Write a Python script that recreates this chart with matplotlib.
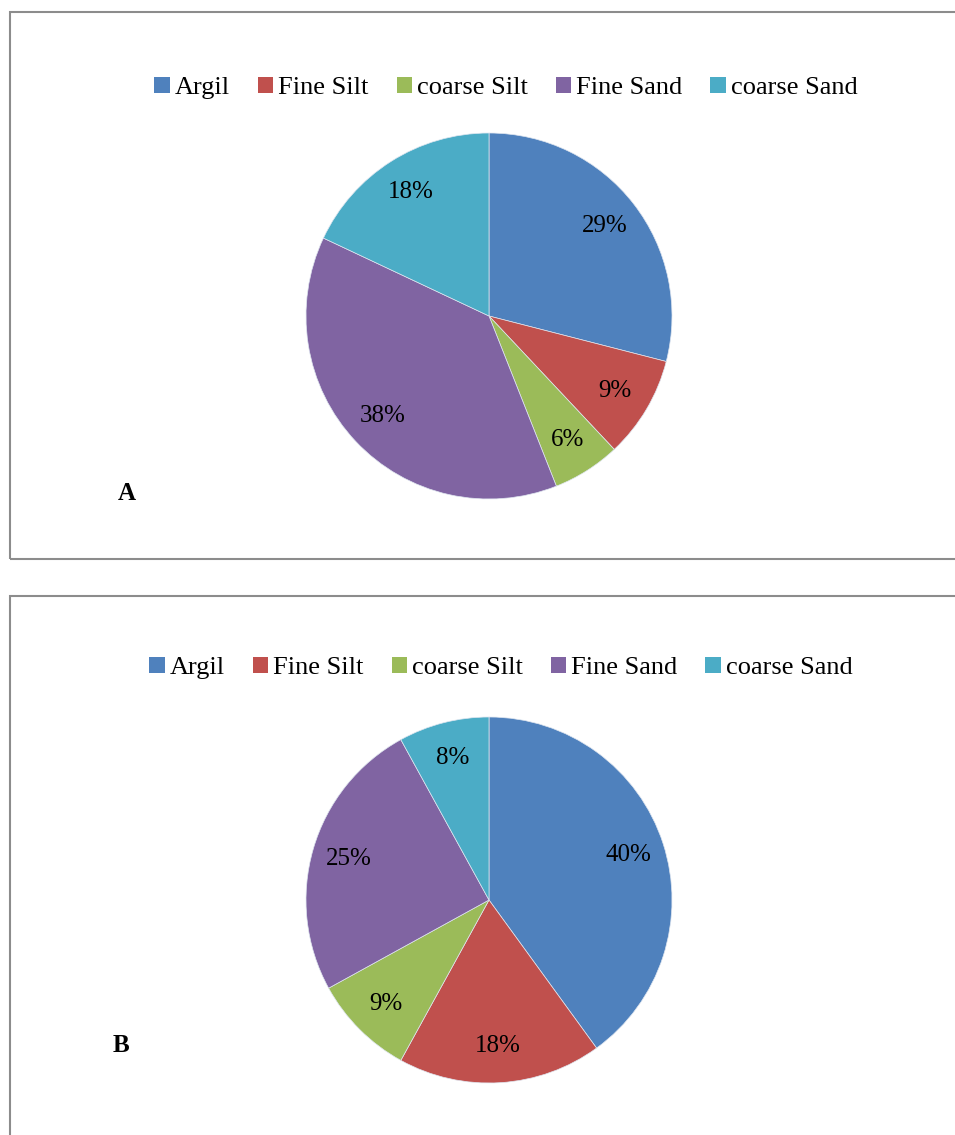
import matplotlib
matplotlib.use('Agg')
import matplotlib.pyplot as plt
from matplotlib.patches import Patch, Rectangle

plt.rcParams['font.family'] = ['Liberation Serif', 'DejaVu Serif']

categories = ['Argil', 'Fine Silt', 'coarse Silt', 'Fine Sand', 'coarse Sand']
colors = ['#4F81BD', '#C0504D', '#9BBB59', '#8064A2', '#4BACC6']
share_a = [29, 9, 6, 38, 18]
share_b = [40, 18, 9, 25, 8]

W, H = 955, 1135
fig = plt.figure(figsize=(W / 100, H / 100), dpi=100)


def px_box(x0, y0, x1, y1):
    # pixel box (top-left origin) -> figure fraction rect
    return [x0 / W, 1 - y1 / H, (x1 - x0) / W, (y1 - y0) / H]


def panel(values, frame, centre, radius, legend_xy, tag, tag_xy):
    fx0, fy0, fx1, fy1 = frame
    fig.patches.append(Rectangle((fx0 / W, 1 - fy1 / H), (fx1 - fx0) / W, (fy1 - fy0) / H,
                                 transform=fig.transFigure, fill=False,
                                 edgecolor='#8c8c8c', linewidth=1.5))
    cx, cy = centre
    ax = fig.add_axes(px_box(cx - radius, cy - radius, cx + radius, cy + radius))
    ax.pie(values, colors=colors, startangle=90, counterclock=False, radius=1,
           autopct='%1.0f%%', pctdistance=0.8,
           wedgeprops=dict(edgecolor='#dfe6f0', linewidth=0.5),
           textprops=dict(fontsize=18, color='black'))
    ax.set_xlim(-1, 1)
    ax.set_ylim(-1, 1)
    ax.set_aspect('equal')
    ax.axis('off')

    handles = [Patch(facecolor=c, edgecolor='none') for c in colors]
    fig.legend(handles, categories, loc='center',
               bbox_to_anchor=(legend_xy[0] / W, 1 - legend_xy[1] / H),
               ncol=5, frameon=False, fontsize=19,
               handlelength=0.58, handleheight=0.58, handletextpad=0.2,
               columnspacing=1.05, borderpad=0)

    fig.text(tag_xy[0] / W, 1 - tag_xy[1] / H, tag, fontsize=18, fontweight='bold',
             ha='center', va='center')


panel(share_a, (10, 12, 970, 559), (489, 316), 183, (506, 88), 'A', (127, 493))
panel(share_b, (10, 596, 970, 1150), (489, 900), 183, (501, 668), 'B', (121, 1045))

fig.savefig('out.png', dpi=100, facecolor='white')
